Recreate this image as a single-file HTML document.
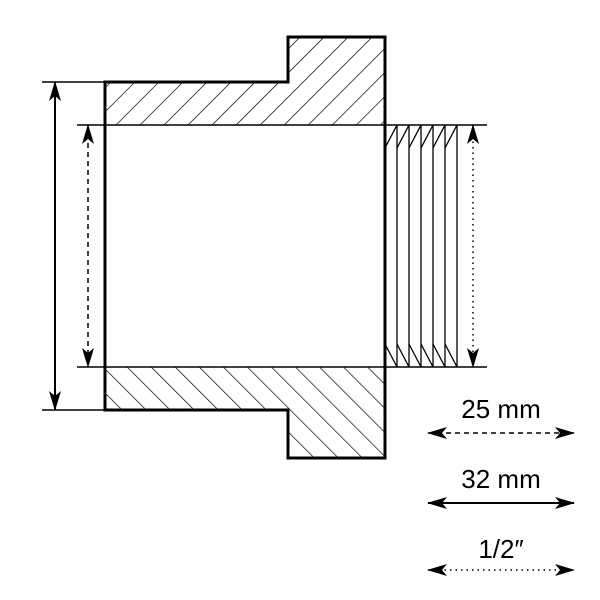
<!DOCTYPE html>
<html><head><style>html,body{margin:0;padding:0;background:#fff}svg{display:block}</style></head><body>
<svg width="600" height="600" viewBox="0 0 600 600" xmlns="http://www.w3.org/2000/svg">
<defs>
<pattern id="h" patternUnits="userSpaceOnUse" width="17" height="17" patternTransform="rotate(45)">
<line x1="0" y1="0" x2="0" y2="17" stroke="#000" stroke-width="1.4"/>
</pattern>
<pattern id="h2" patternUnits="userSpaceOnUse" width="17" height="17" patternTransform="rotate(-45)">
<line x1="0" y1="0" x2="0" y2="17" stroke="#000" stroke-width="1.4"/>
</pattern>
<marker id="a" viewBox="0 0 20 12" refX="19" refY="6" markerWidth="20" markerHeight="12" markerUnits="userSpaceOnUse" orient="auto-start-reverse">
<path d="M0,0 L20,6 L0,12 L5,6 Z" fill="#000"/>
</marker>
</defs>
<path d="M105,82 H288 V37 H385 V125 H105 Z" fill="url(#h)"/>
<path d="M105,367 H385 V458 H288 V410 H105 Z" fill="url(#h2)"/>
<path d="M105,125 V82 H288 V37 H385 V125" fill="none" stroke="#000" stroke-width="3"/>
<path d="M105,367 V410 H288 V458 H385 V367" fill="none" stroke="#000" stroke-width="3"/>
<line x1="105" y1="125" x2="105" y2="367" stroke="#000" stroke-width="3"/>
<line x1="385" y1="125" x2="385" y2="367" stroke="#000" stroke-width="3"/>
<line x1="42" y1="82" x2="105" y2="82" stroke="#000" stroke-width="1.5"/>
<line x1="42" y1="410" x2="105" y2="410" stroke="#000" stroke-width="1.5"/>
<line x1="77" y1="125" x2="487" y2="125" stroke="#000" stroke-width="1.5"/>
<line x1="77" y1="367" x2="487" y2="367" stroke="#000" stroke-width="1.5"/>
<g stroke="#000" stroke-width="1.3" fill="none">
<line x1="397" y1="125" x2="397" y2="367"/>
<line x1="409" y1="125" x2="409" y2="367"/>
<line x1="421" y1="125" x2="421" y2="367"/>
<line x1="433" y1="125" x2="433" y2="367"/>
<line x1="445" y1="125" x2="445" y2="367"/>
<line x1="457" y1="125" x2="457" y2="367"/>
<path d="M385,148 L397,125 M397,148 L409,125 M409,148 L421,125 M421,148 L433,125 M433,148 L445,125 M445,148 L457,125"/>
<path d="M385,344 L397,367 M397,344 L409,367 M409,344 L421,367 M421,344 L433,367 M433,344 L445,367 M445,344 L457,367"/>
</g>
<line x1="55" y1="82" x2="55" y2="410" stroke="#000" stroke-width="2" marker-start="url(#a)" marker-end="url(#a)"/>
<line x1="88" y1="125" x2="88" y2="367" stroke="#000" stroke-width="1.5" stroke-dasharray="5,4" marker-start="url(#a)" marker-end="url(#a)"/>
<line x1="473" y1="125" x2="473" y2="367" stroke="#000" stroke-width="1.5" stroke-dasharray="1.5,4" marker-start="url(#a)" marker-end="url(#a)"/>
<g font-family="Liberation Sans, sans-serif" font-size="26" text-anchor="middle" fill="#000">
<text x="501" y="418">25 mm</text>
<text x="501" y="488">32 mm</text>
<text x="501" y="558">1/2″</text>
</g>
<line x1="428" y1="433" x2="574" y2="433" stroke="#000" stroke-width="1.5" stroke-dasharray="5,4" marker-start="url(#a)" marker-end="url(#a)"/>
<line x1="428" y1="503" x2="574" y2="503" stroke="#000" stroke-width="2" marker-start="url(#a)" marker-end="url(#a)"/>
<line x1="428" y1="570" x2="574" y2="570" stroke="#000" stroke-width="1.5" stroke-dasharray="1.5,4" marker-start="url(#a)" marker-end="url(#a)"/>
</svg>
</body></html>
